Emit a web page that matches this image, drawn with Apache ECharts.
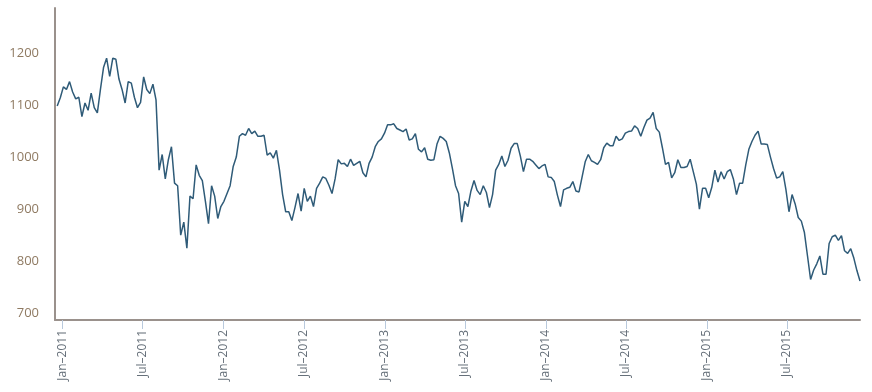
<!DOCTYPE html>
<html>
<head>
<meta charset="utf-8">
<script src="https://cdn.jsdelivr.net/npm/echarts@6/dist/echarts.min.js"></script>
<style>
html,body{margin:0;padding:0;background:#fff;}
#chart{width:872px;height:392px;}
</style>
</head>
<body>
<div id="chart"></div>
<script>
// Weekly readings (every 7 days) starting 2010-12-20
const startDate = '2010-12-20';
const stepDays = 7;
const values = [
1098,1114,1135,1130,1145,1125,1112,1115,1078,1104,1090,1123,1095,1085,1130,1172,1190,1155,1190,1188,
1150,1130,1104,1145,1142,1115,1095,1105,1154,1130,1122,1140,1110,975,1005,958,995,1020,950,945,
850,875,825,925,920,985,965,955,915,872,945,925,882,905,915,930,945,982,1000,1040,
1045,1042,1055,1045,1050,1040,1040,1042,1004,1008,998,1013,975,928,895,895,878,903,930,896,
940,915,925,905,940,950,962,959,946,930,958,995,987,988,982,996,984,988,992,970,
962,988,1000,1020,1030,1035,1046,1062,1062,1064,1055,1052,1049,1054,1033,1035,1045,1015,1010,1018,
996,994,995,1025,1040,1036,1030,1008,978,945,930,875,915,905,935,955,936,928,945,932,
903,928,975,986,1002,982,994,1017,1026,1026,1002,972,996,996,992,985,978,983,986,962,
961,953,927,905,937,940,942,953,935,933,962,991,1005,993,990,986,995,1018,1027,1022,
1022,1040,1032,1035,1046,1049,1050,1060,1055,1040,1057,1071,1075,1086,1055,1048,1018,986,990,960,
970,995,980,980,982,996,972,948,900,940,940,922,942,975,952,972,958,972,976,958,
928,950,950,985,1015,1030,1042,1050,1025,1025,1024,1000,978,960,962,972,938,895,928,910,
884,877,855,810,765,783,795,810,775,775,834,847,850,840,849,820,815,824,806,782,
762
];
const tickDates = ['2011-01-01','2011-07-01','2012-01-01','2012-07-01','2013-01-01','2013-07-01','2014-01-01','2014-07-01','2015-01-01','2015-07-01'];
const tickLabels = ['Jan–2011','Jul–2011','Jan–2012','Jul–2012','Jan–2013','Jul–2013','Jan–2014','Jul–2014','Jan–2015','Jul–2015'];
const yTicks = [700,800,900,1000,1100,1200];

function ts(s){ const p = s.split('-'); return Date.UTC(+p[0], +p[1]-1, +p[2]); }
const t0 = ts(startDate);
const seriesData = values.map((v,i)=>[t0 + i*stepDays*86400000, v]);
const tickTs = tickDates.map(ts);
const labelMap = {};
tickTs.forEach((t,i)=>{ labelMap[t] = tickLabels[i]; });

const chart = echarts.init(document.getElementById('chart'), null, {renderer:'canvas'});
chart.setOption({
  animation:false,
  backgroundColor:'#ffffff',
  grid:{left:55, right:12, top:8, bottom:72, containLabel:false},
  xAxis:{
    type:'value',
    min: ts('2010-12-15'),
    max: ts('2015-12-14'),
    axisLine:{show:true, onZero:false, lineStyle:{color:'#9a918c', width:2}},
    axisTick:{show:true, customValues: tickTs, length:9, lineStyle:{color:'#b9c9dc', width:1}},
    axisLabel:{
      customValues: tickTs,
      rotate:90,
      margin:10,
      fontSize:12,
      fontFamily:'Open Sans',
      color:'#66707a',
      formatter:function(v){ return labelMap[v] || ''; }
    },
    splitLine:{show:false}
  },
  yAxis:{
    type:'value',
    min:687,
    max:1286.5,
    axisLine:{show:true, onZero:false, lineStyle:{color:'#9a918c', width:2}},
    axisTick:{show:false},
    splitLine:{show:false},
    axisLabel:{
      customValues: yTicks,
      margin:16,
      fontSize:13,
      fontFamily:'Open Sans',
      color:'#8f7a62',
      formatter:function(v){ return String(v); }
    }
  },
  series:[{
    type:'line',
    data: seriesData,
    showSymbol:false,
    symbol:'none',
    lineStyle:{color:'#2f5b78', width:1.5},
    emphasis:{disabled:true}
  }]
});
</script>
</body>
</html>
